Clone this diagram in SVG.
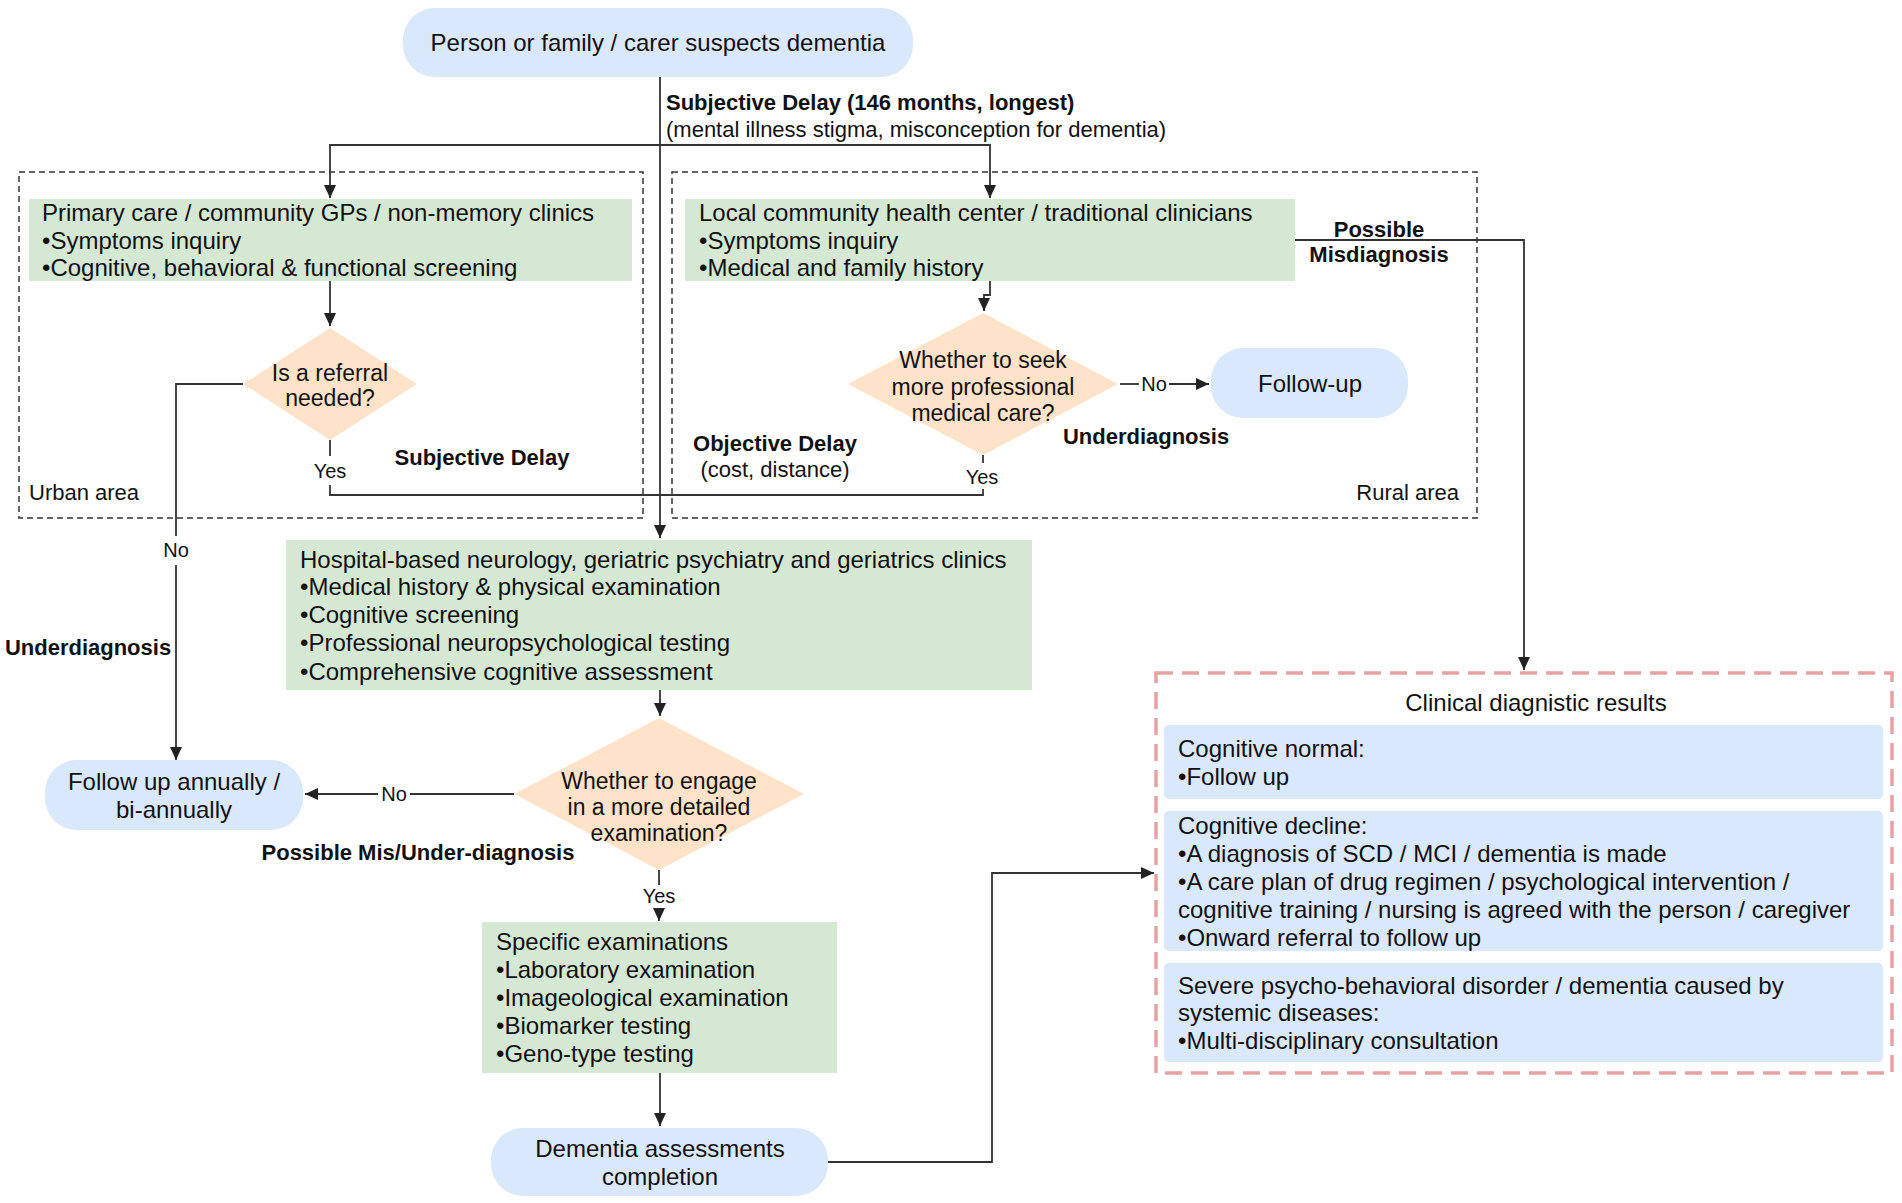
<svg xmlns="http://www.w3.org/2000/svg" width="1902" height="1203" viewBox="0 0 1902 1203">
<style>
text{font-family:"Liberation Sans",Arial,sans-serif;fill:#111;}
.t24{font-size:24px;}
.t22{font-size:22px;}
.t23{font-size:23px;}
.t20{font-size:20px;}
.b{font-weight:bold;font-size:22px;}
.m{text-anchor:middle;}
.e{text-anchor:end;}
.green{fill:#d5e8d4;}
.blue{fill:#dae8fc;}
.peach{fill:#ffe3c8;}
.area{fill:none;stroke:#333;stroke-width:1.5;stroke-dasharray:6 4;}
.line{fill:none;stroke:#333;stroke-width:1.8;}
.arr{marker-end:url(#ah);}
</style>
<defs>
<marker id="ah" markerUnits="userSpaceOnUse" markerWidth="14" markerHeight="12" refX="13" refY="6" orient="auto">
<path d="M0,0 L13,6 L0,12 z" fill="#222"/>
</marker>
</defs>
<rect width="1902" height="1203" fill="#fff"/>

<g id="areas">
<rect class="area" x="19" y="172" width="624" height="346"/>
<rect class="area" x="672" y="172" width="805" height="346"/>
<text class="t22" x="29" y="500">Urban area</text>
<text class="t22 e" x="1459" y="500">Rural area</text>
</g>

<g id="connectors">
<path class="line arr" d="M660,77 V538"/>
<path class="line arr" d="M660,145 H330 V198"/>
<path class="line arr" d="M660,145 H990 V198"/>
<path class="line arr" d="M330,281 V326"/>
<path class="line arr" d="M990,281 V295 H984 V311"/>
<path class="line" d="M330,440 V456"/>
<path class="line" d="M330,485 V495 H983 V489"/>
<path class="line" d="M983,455 V463"/>
<path class="line" d="M1120,384 H1139"/>
<path class="line arr" d="M1169,384 H1209"/>
<path class="line" d="M243,384 H176 V536"/>
<path class="line arr" d="M176,565 V760"/>
<path class="line arr" d="M660,690 V716"/>
<path class="line" d="M514,794 H410"/>
<path class="line arr" d="M378,794 H305"/>
<path class="line" d="M659,870 V885"/>
<path class="line arr" d="M659,908 V921"/>
<path class="line arr" d="M660,1073 V1126"/>
<path class="line arr" d="M828,1162 H992 V873 H1154"/>
<path class="line arr" d="M1295,240 H1524 V670"/>
<text class="t20 m" x="330" y="478">Yes</text>
<text class="t20 m" x="982" y="484">Yes</text>
<text class="t20 m" x="1154" y="391">No</text>
<text class="t20 m" x="176" y="557">No</text>
<text class="t20 m" x="394" y="801">No</text>
<text class="t20 m" x="659" y="903">Yes</text>
</g>

<g id="labels">
<text class="b" x="666" y="110">Subjective Delay (146 months, longest)</text>
<text class="t22" x="666" y="137">(mental illness stigma, misconception for dementia)</text>
<text class="b m" x="482" y="465">Subjective Delay</text>
<text class="b m" x="775" y="451">Objective Delay</text>
<text class="t22 m" x="775" y="477">(cost, distance)</text>
<text class="b m" x="1146" y="444">Underdiagnosis</text>
<text class="b m" x="88" y="655">Underdiagnosis</text>
<text class="b m" x="418" y="860">Possible Mis/Under-diagnosis</text>
<text class="b m" x="1379" y="237">Possible</text>
<text class="b m" x="1379" y="262">Misdiagnosis</text>
</g>

<g id="start">
<rect class="blue" x="403" y="8" width="510" height="69" rx="32"/>
<text class="t24 m" x="658" y="51">Person or family / carer suspects dementia</text>
</g>

<g id="primary-care">
<rect class="green" x="29" y="199" width="603" height="82"/>
<text class="t24" x="42" y="221">Primary care / community GPs / non-memory clinics</text>
<text class="t24" x="42" y="249">•Symptoms inquiry</text>
<text class="t24" x="42" y="276">•Cognitive, behavioral &amp; functional screening</text>
</g>

<g id="local-center">
<rect class="green" x="685" y="199" width="610" height="82"/>
<text class="t24" x="699" y="221">Local community health center / traditional clinicians</text>
<text class="t24" x="699" y="249">•Symptoms inquiry</text>
<text class="t24" x="699" y="276">•Medical and family history</text>
</g>

<g id="referral-decision">
<polygon class="peach" points="330,328 417,384 330,440 243,384"/>
<text class="t23 m" x="330" y="381">Is a referral</text>
<text class="t23 m" x="330" y="406">needed?</text>
</g>

<g id="seek-decision">
<polygon class="peach" points="983,313 1118,384 983,455 848,384"/>
<text class="t23 m" x="983" y="368">Whether to seek</text>
<text class="t23 m" x="983" y="395">more professional</text>
<text class="t23 m" x="983" y="421">medical care?</text>
</g>

<g id="follow-up">
<rect class="blue" x="1211" y="348" width="197" height="70" rx="32"/>
<text class="t24 m" x="1310" y="392">Follow-up</text>
</g>

<g id="hospital">
<rect class="green" x="286" y="540" width="746" height="150"/>
<text class="t24" x="300" y="568">Hospital-based neurology, geriatric psychiatry and geriatrics clinics</text>
<text class="t24" x="300" y="595">•Medical history &amp; physical examination</text>
<text class="t24" x="300" y="623">•Cognitive screening</text>
<text class="t24" x="300" y="651">•Professional neuropsychological testing</text>
<text class="t24" x="300" y="680">•Comprehensive cognitive assessment</text>
</g>

<g id="engage-decision">
<polygon class="peach" points="659,718 804,794 659,870 514,794"/>
<text class="t23 m" x="659" y="789">Whether to engage</text>
<text class="t23 m" x="659" y="815">in a more detailed</text>
<text class="t23 m" x="659" y="841">examination?</text>
</g>

<g id="follow-annually">
<rect class="blue" x="45" y="760" width="258" height="70" rx="32"/>
<text class="t24 m" x="174" y="790">Follow up annually /</text>
<text class="t24 m" x="174" y="818">bi-annually</text>
</g>

<g id="specific">
<rect class="green" x="482" y="922" width="355" height="151"/>
<text class="t24" x="496" y="950">Specific examinations</text>
<text class="t24" x="496" y="978">•Laboratory examination</text>
<text class="t24" x="496" y="1006">•Imageological examination</text>
<text class="t24" x="496" y="1034">•Biomarker testing</text>
<text class="t24" x="496" y="1062">•Geno-type testing</text>
</g>

<g id="completion">
<rect class="blue" x="491" y="1128" width="337" height="68" rx="32"/>
<text class="t24 m" x="660" y="1157">Dementia assessments</text>
<text class="t24 m" x="660" y="1185">completion</text>
</g>

<g id="results">
<rect x="1156" y="673" width="736" height="400" fill="none" stroke="#e6a3a3" stroke-width="3.5" stroke-dasharray="17 9"/>
<text class="t24 m" x="1536" y="711">Clinical diagnistic results</text>
<rect class="blue" x="1164" y="725" width="719" height="74" rx="5"/>
<text class="t24" x="1178" y="757">Cognitive normal:</text>
<text class="t24" x="1178" y="785">•Follow up</text>
<rect class="blue" x="1164" y="811" width="719" height="140" rx="5"/>
<text class="t24" x="1178" y="834">Cognitive decline:</text>
<text class="t24" x="1178" y="862">•A diagnosis of SCD / MCI / dementia is made</text>
<text class="t24" x="1178" y="890">•A care plan of drug regimen / psychological intervention /</text>
<text class="t24" x="1178" y="918">cognitive training / nursing is agreed with the person / caregiver</text>
<text class="t24" x="1178" y="946">•Onward referral to follow up</text>
<rect class="blue" x="1164" y="963" width="719" height="99" rx="5"/>
<text class="t24" x="1178" y="994">Severe psycho-behavioral disorder / dementia caused by</text>
<text class="t24" x="1178" y="1021">systemic diseases:</text>
<text class="t24" x="1178" y="1049">•Multi-disciplinary consultation</text>
</g>
</svg>
